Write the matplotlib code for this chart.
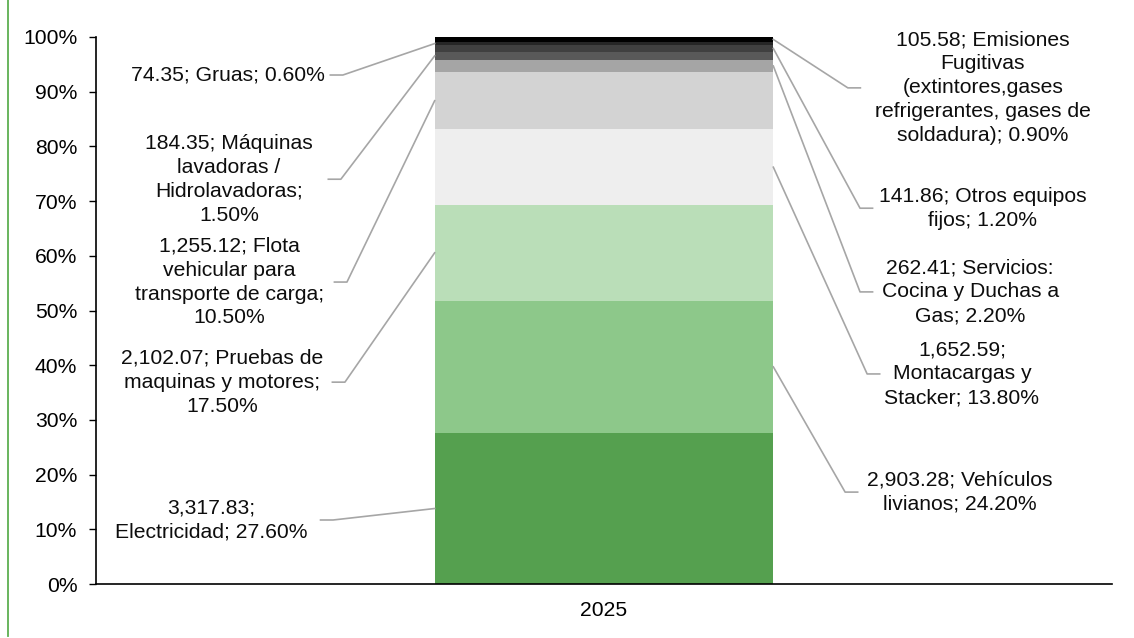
import matplotlib
matplotlib.use('Agg')
import matplotlib.pyplot as plt
from matplotlib.lines import Line2D

plt.rcParams['font.family'] = ['Liberation Sans', 'DejaVu Sans']
plt.rcParams['font.size'] = 15.2

# data (bottom to top of the stacked bar)
nombres = ['Electricidad', 'Vehículos livianos', 'Pruebas de maquinas y motores',
           'Montacargas y Stacker', 'Flota vehicular para transporte de carga',
           'Servicios: Cocina y Duchas a Gas', 'Máquinas lavadoras / Hidrolavadoras',
           'Otros equipos fijos', 'Gruas', 'Emisiones Fugitivas']
valores = [3317.83, 2903.28, 2102.07, 1652.59, 1255.12, 262.41, 184.35, 141.86, 74.35, 105.58]
porcentajes = [27.6, 24.2, 17.5, 13.8, 10.5, 2.2, 1.5, 1.2, 0.6, 0.9]
etiquetas = [
    '3,317.83;\nElectricidad; 27.60%',
    '2,903.28; Vehículos\nlivianos; 24.20%',
    '2,102.07; Pruebas de\nmaquinas y motores;\n17.50%',
    '1,652.59;\nMontacargas y\nStacker; 13.80%',
    '1,255.12; Flota\nvehicular para\ntransporte de carga;\n10.50%',
    '262.41; Servicios:\nCocina y Duchas a\nGas; 2.20%',
    '184.35; Máquinas\nlavadoras /\nHidrolavadoras;\n1.50%',
    '141.86; Otros equipos\nfijos; 1.20%',
    '74.35; Gruas; 0.60%',
    '105.58; Emisiones\nFugitivas\n(extintores,gases\nrefrigerantes, gases de\nsoldadura); 0.90%',
]
colores = ['#55A04F', '#8DC88A', '#BADEB8', '#EEEEEE', '#D3D3D3',
           '#A5A5A5', '#595959', '#404040', '#262626', '#000000']
categoria = '2025'

# label placement (x, y in data units) and side
lado = ['L', 'R', 'L', 'R', 'L', 'R', 'L', 'R', 'L', 'R']
pos_texto = [(-1.16, 11.7), (1.051, 16.8), (-1.128, 36.9), (1.057, 38.4), (-1.107, 55.2),
             (1.081, 53.4), (-1.107, 74.0), (1.119, 68.7), (-1.11, 93.05), (1.119, 90.7)]
codo_x = [-0.80, 0.712, -0.765, 0.777, -0.759, 0.756, -0.777, 0.756, -0.771, 0.72]

fig = plt.figure(figsize=(11.34, 6.38), dpi=100)
ax = fig.add_axes([96 / 1134, 1 - 584 / 638, 1016 / 1134, 547 / 638])

base = 0
medios = []
for p, c in zip(porcentajes, colores):
    ax.bar(0, p, bottom=base, width=1.0, color=c, edgecolor='none')
    medios.append(base + p / 2)
    base += p

for i in range(len(nombres)):
    tx, ty = pos_texto[i]
    borde = -0.5 if lado[i] == 'L' else 0.5
    fin = codo_x[i] + (-0.037 if lado[i] == 'L' else 0.037)
    ax.plot([borde, codo_x[i], fin], [medios[i], ty, ty], color='#A6A6A6', lw=1.2,
            clip_on=False, zorder=1)
    ax.text(tx, ty, etiquetas[i], ha='center', va='center', linespacing=1.33,
            color='#0d0d0d')

ax.set_xlim(-1.5, 1.5)
ax.set_ylim(0, 100)
ax.set_xticks([0])
ax.set_xticklabels([categoria])
ax.tick_params(axis='x', length=0, pad=12)
ax.set_yticks(range(0, 101, 10))
ax.set_yticklabels([f'{v}%' for v in range(0, 101, 10)])
ax.tick_params(axis='y', length=5, width=1, pad=8.5)
for s in ['top', 'right']:
    ax.spines[s].set_visible(False)
ax.spines['left'].set_linewidth(1.2)
ax.spines['bottom'].set_linewidth(1.2)

fig.add_artist(Line2D([7.5 / 1134, 7.5 / 1134], [0.003, 1], color='#5DAF50', lw=1.3))

fig.savefig('out.png', dpi=100)
